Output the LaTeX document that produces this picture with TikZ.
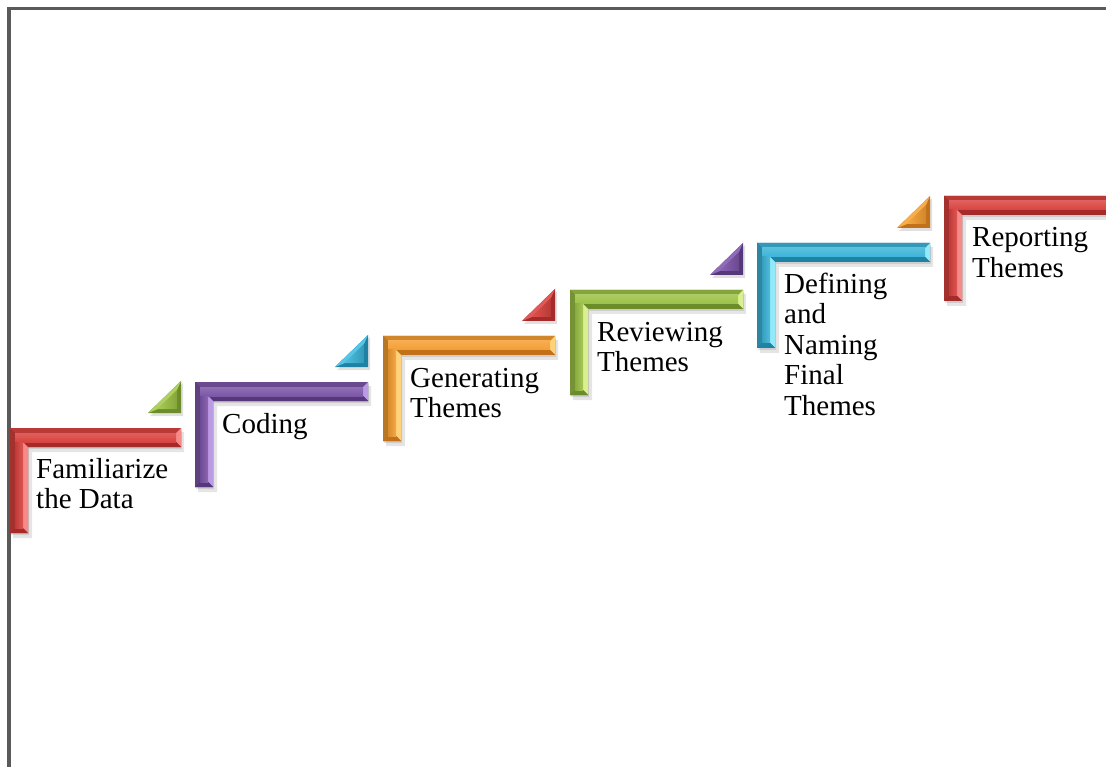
\documentclass[tikz,border=0pt]{standalone}
\usepackage{fontspec}
\setmainfont{Liberation Serif}
\definecolor{rBase}{HTML}{D9433F}\definecolor{rLight}{HTML}{F58A88}\definecolor{rDark}{HTML}{A52A2A}
\definecolor{pBase}{HTML}{7D56A8}\definecolor{pLight}{HTML}{BC9BE6}\definecolor{pDark}{HTML}{54387A}
\definecolor{oBase}{HTML}{F59E32}\definecolor{oLight}{HTML}{FFD27C}\definecolor{oDark}{HTML}{C2711A}
\definecolor{gBase}{HTML}{9CC246}\definecolor{gLight}{HTML}{DAF090}\definecolor{gDark}{HTML}{6B8C28}
\definecolor{cBase}{HTML}{3CB4D8}\definecolor{cLight}{HTML}{92EAF8}\definecolor{cDark}{HTML}{1D82A4}
\definecolor{frameGray}{HTML}{5A5A5A}
\newcommand{\stairstep}[6]{% #1 x, #2 top, #3 base, #4 light, #5 dark, #6 width
 \begin{scope}[shift={(#1,#2)}]
  \fill[black,opacity=0.10] (3,4) -- (#6+3,4) -- (#6+3,24) -- (22,24) -- (22,110) -- (3,110) -- cycle;
  \fill[black,opacity=0.10] (1,2) -- (#6+1,2) -- (#6+1,21) -- (19,21) -- (19,107) -- (1,107) -- cycle;
  \fill[#5] (0,0) -- (#6,0) -- (#6,19) -- (18,19) -- (18,105) -- (0,105) -- cycle;
  \fill[#3!85!black] (0,0) -- (#6,0) -- (#6-5,5) -- (5,5) -- cycle;
  \fill[#3!75!black] (0,0) -- (5,5) -- (5,100) -- (0,105) -- cycle;
  \fill[#4] (#6,0) -- (#6,19) -- (#6-5,14) -- (#6-5,5) -- cycle;
  \fill[#5] (#6,19) -- (18,19) -- (13,14) -- (#6-5,14) -- cycle;
  \fill[#4] (18,19) -- (18,105) -- (13,100) -- (13,14) -- cycle;
  \fill[#5] (18,105) -- (0,105) -- (5,100) -- (13,100) -- cycle;
  \shade[top color=#3!85!white, bottom color=#3] (5,5) rectangle (#6-5,14);
  \shade[left color=#3!88!black, right color=#3!90!white] (5,14) rectangle (13,100);
 \end{scope}}
\newcommand{\stepcorner}[5]{% #1 right x, #2 bottom y, #3 base, #4 light, #5 dark
 \fill[black,opacity=0.12] (#1+2,#2-30) -- (#1+2,#2+3) -- (#1-31,#2+3) -- cycle;
 \fill[#5] (#1,#2-32) -- (#1,#2) -- (#1-33,#2) -- cycle;
 \fill[#3!70!#4] (#1,#2-32) -- (#1-33,#2) -- (#1-23,#2-4) -- (#1-4,#2-23) -- cycle;
 \shade[left color=#3!80!#4, right color=#3!85!black] (#1-4,#2-23) -- (#1-4,#2-4) -- (#1-23,#2-4) -- cycle;
}
\begin{document}
\begin{tikzpicture}[x=1pt,y=-1pt,
  steptext/.style={anchor=base west, inner sep=0pt, align=left,
    font=\fontsize{29}{30.5}\selectfont, text=black}]
\useasboundingbox (0,0) rectangle (1106,767);
\clip (0,0) rectangle (1106,767);
\fill[white] (0,0) rectangle (1106,767);
\draw[line width=3.5pt, draw=frameGray] (9,770) -- (9,8.5) -- (1110,8.5);
% corner triangles
\stepcorner{181}{413}{gBase}{gLight}{gDark}
\stepcorner{368}{367}{cBase}{cLight}{cDark}
\stepcorner{555}{321}{rBase}{rLight}{rDark}
\stepcorner{743}{275}{pBase}{pLight}{pDark}
\stepcorner{930}{228}{oBase}{oLight}{oDark}
% steps
\stairstep{10}{428}{rBase}{rLight}{rDark}{171}
\stairstep{195}{382}{pBase}{pLight}{pDark}{173}
\stairstep{383}{336}{oBase}{oLight}{oDark}{172}
\stairstep{570}{290}{gBase}{gLight}{gDark}{173}
\stairstep{757}{243}{cBase}{cLight}{cDark}{173}
\stairstep{944}{196}{rBase}{rLight}{rDark}{175}
% labels (base anchor = baseline of the last line)
\node[steptext] (s1) at (36,508.5) {Familiarize\\the Data};
\node[steptext] (s2) at (222,433) {Coding};
\node[steptext] (s3) at (410,417.5) {Generating\\Themes};
\node[steptext] (s4) at (597,371.5) {Reviewing\\Themes};
\node[steptext] (s5) at (784,415) {Defining\\and\\Naming\\Final\\Themes};
\node[steptext] (s6) at (972,277.5) {Reporting\\Themes};
\end{tikzpicture}
\end{document}
